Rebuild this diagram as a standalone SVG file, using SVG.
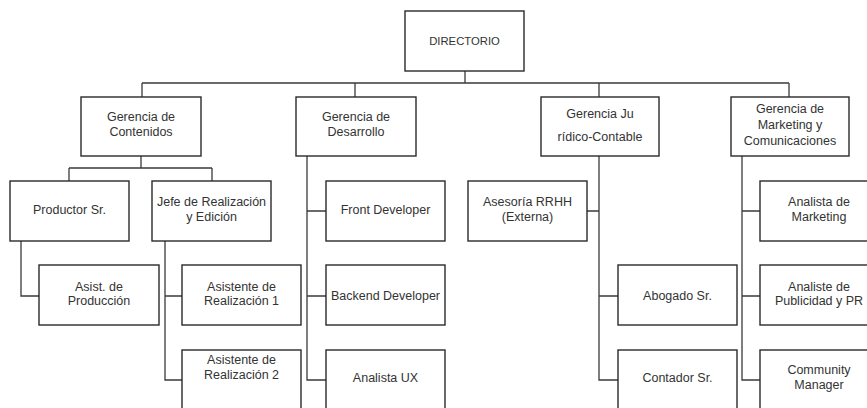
<svg xmlns="http://www.w3.org/2000/svg" width="867" height="408" viewBox="0 0 867 408">
<style>
.b{fill:#fff;stroke:#2a2a2a;stroke-width:1.4}
.c{fill:none;stroke:#3a3a3a;stroke-width:1.3}
text{font-family:"Liberation Sans",Arial,sans-serif;font-size:12.5px;fill:#333;text-anchor:middle;dominant-baseline:central}
</style>
<rect width="867" height="408" fill="#fff"/>
<g id="connectors">
<path class="c" d="M465 71V83M142 83H789M142 83V97M355 83V97M599 83V97M789 83V97"/>
<path class="c" d="M141 156V168M69 168H212M69 168V181M212 168V181"/>
<path class="c" d="M21 241V296H39"/>
<path class="c" d="M165 241V380H182M165 296H182"/>
<path class="c" d="M307 156V380H326M307 211H326M307 296H326"/>
<path class="c" d="M599 156V380H618M599 211H587M599 296H618"/>
<path class="c" d="M742 156V380H760M742 211H760M742 296H760"/>
</g>
<g id="directorio"><rect class="b" x="405" y="11" width="119" height="60"/><text x="464.5" y="41" style="font-size:11.3px">DIRECTORIO</text></g>
<g id="g-contenidos"><rect class="b" x="81" y="97" width="120" height="59"/><text x="141" y="117">Gerencia de</text><text x="141" y="132">Contenidos</text></g>
<g id="g-desarrollo"><rect class="b" x="296" y="97" width="120" height="59"/><text x="356" y="117">Gerencia de</text><text x="356" y="132">Desarrollo</text></g>
<g id="g-juridico"><rect class="b" x="541" y="97" width="118" height="59"/><text x="600" y="114">Gerencia Ju</text><text x="600" y="137">rídico-Contable</text></g>
<g id="g-marketing"><rect class="b" x="731" y="97" width="118" height="59"/><text x="790" y="109">Gerencia de</text><text x="790" y="125">Marketing y</text><text x="790" y="141">Comunicaciones</text></g>
<g id="productor"><rect class="b" x="10" y="181" width="119" height="60"/><text x="69.5" y="210">Productor Sr.</text></g>
<g id="jefe"><rect class="b" x="152" y="181" width="119" height="60"/><text x="211.5" y="202">Jefe de Realización</text><text x="211.5" y="217">y Edición</text></g>
<g id="asist-produccion"><rect class="b" x="39" y="265" width="120" height="60"/><text x="99" y="287">Asist. de</text><text x="99" y="301">Producción</text></g>
<g id="asist-real-1"><rect class="b" x="182" y="265" width="119" height="60"/><text x="241.5" y="287">Asistente de</text><text x="241.5" y="301">Realización 1</text></g>
<g id="asist-real-2"><rect class="b" x="182" y="350" width="119" height="70"/><text x="241.5" y="360">Asistente de</text><text x="241.5" y="375">Realización 2</text></g>
<g id="front"><rect class="b" x="326" y="181" width="119" height="60"/><text x="385.5" y="210">Front Developer</text></g>
<g id="backend"><rect class="b" x="326" y="265" width="119" height="60"/><text x="385.5" y="296">Backend Developer</text></g>
<g id="analista-ux"><rect class="b" x="326" y="350" width="119" height="70"/><text x="385.5" y="378">Analista UX</text></g>
<g id="asesoria"><rect class="b" x="468" y="181" width="119" height="60"/><text x="527.5" y="202">Asesoría RRHH</text><text x="527.5" y="217">(Externa)</text></g>
<g id="abogado"><rect class="b" x="618" y="265" width="119" height="60"/><text x="677.5" y="296">Abogado Sr.</text></g>
<g id="contador"><rect class="b" x="618" y="350" width="119" height="70"/><text x="677.5" y="378">Contador Sr.</text></g>
<g id="analista-mkt"><rect class="b" x="760" y="181" width="119" height="60"/><text x="819" y="202">Analista de</text><text x="819" y="217">Marketing</text></g>
<g id="analiste-pub"><rect class="b" x="760" y="265" width="119" height="60"/><text x="819" y="287">Analiste de</text><text x="819" y="301">Publicidad y PR</text></g>
<g id="community"><rect class="b" x="760" y="350" width="119" height="70"/><text x="819" y="370">Community</text><text x="819" y="385">Manager</text></g>
</svg>
